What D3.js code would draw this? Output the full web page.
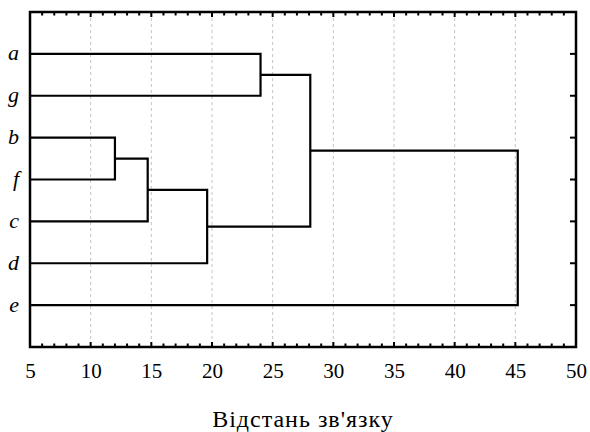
<!DOCTYPE html>
<html><head><meta charset="utf-8">
<script src="https://cdn.jsdelivr.net/npm/d3@7"></script>
</head><body style="margin:0;background:#fff">
<svg id="c" width="590" height="432" style="display:block"></svg>
<script>
// Data
const leaves = ["a", "g", "b", "f", "c", "d", "e"];
const mergeA = ["b", "n1", "n2", "a", "n4", "n5"];
const mergeB = ["f", "c", "d", "g", "n3", "e"];
const mergeDist = [12.0, 14.7, 19.6, 24.0, 28.1, 45.2];
const xTicks = [5, 10, 15, 20, 25, 30, 35, 40, 45, 50];
const xTitle = "Відстань зв'язку";

const FONT = `"Liberation Serif", monospace`;
const svg = d3.select("#c");
const L = 30, R = 576, T = 12, B = 347;
const x = d3.scaleLinear().domain([5, 50]).range([L, R]);
const y = d3.scaleLinear().domain([0, leaves.length + 1]).range([T, B]);

// node positions
const pos = {};
leaves.forEach((k, i) => pos[k] = { x: 5, y: i + 1 });
mergeDist.forEach((d, i) => {
  const a = pos[mergeA[i]], b = pos[mergeB[i]];
  pos["n" + (i + 1)] = { x: d, y: (a.y + b.y) / 2 };
});

// grid
svg.append("g").selectAll("line").data(xTicks.slice(1, -1)).join("line")
  .attr("x1", d => x(d)).attr("x2", d => x(d)).attr("y1", T).attr("y2", B)
  .attr("stroke", "#c4c4c4").attr("stroke-width", 1).attr("stroke-dasharray", "3,3");

// bottom tick labels (via axis)
const bottomAx = d3.axisBottom(x).tickValues(xTicks).tickSize(0).tickPadding(16).tickFormat(d3.format("d"));
const gb = svg.append("g").attr("transform", `translate(0,${B})`).call(bottomAx);
gb.select(".domain").remove();
gb.selectAll("text").style("font-family", FONT).style("font-size", "21px").attr("fill", "#000");

// inward ticks
const minor = d3.range(5, 51, 1);
function inTicks(yy, dir) {
  svg.append("g").selectAll("line").data(minor).join("line")
    .attr("x1", d => x(d)).attr("x2", d => x(d))
    .attr("y1", yy).attr("y2", d => yy + dir * (d % 5 === 0 ? 5 : 3.5))
    .attr("stroke", "#000").attr("stroke-width", 2);
}
inTicks(B, -1);
inTicks(T, 1);
svg.append("g").selectAll("line").data(leaves).join("line")
  .attr("x1", R).attr("x2", R - 6)
  .attr("y1", (d, i) => y(i + 1)).attr("y2", (d, i) => y(i + 1))
  .attr("stroke", "#000").attr("stroke-width", 2);

// dendrogram links
svg.append("g").selectAll("path").data(mergeDist).join("path")
  .attr("d", (d, i) => {
    const a = pos[mergeA[i]], b = pos[mergeB[i]];
    return `M${x(a.x)},${y(a.y)}H${x(d)}V${y(b.y)}H${x(b.x)}`;
  })
  .attr("fill", "none").attr("stroke", "#000").attr("stroke-width", 2.2);

// leaf labels
svg.append("g").selectAll("text").data(leaves).join("text")
  .attr("x", 19).attr("y", (d, i) => y(i + 1)).attr("dy", "0.3em")
  .attr("text-anchor", "end")
  .style("font-family", FONT).style("font-style", "italic").style("font-size", "22px").text(d => d);

// frame
svg.append("rect").attr("x", L).attr("y", T).attr("width", R - L).attr("height", B - T)
  .attr("fill", "none").attr("stroke", "#000").attr("stroke-width", 2.5);

// title
svg.append("text").attr("x", 303).attr("y", 427).attr("text-anchor", "middle")
  .style("font-family", FONT).style("font-size", "24px").style("letter-spacing", "1px").text(xTitle);
</script>
</body></html>
